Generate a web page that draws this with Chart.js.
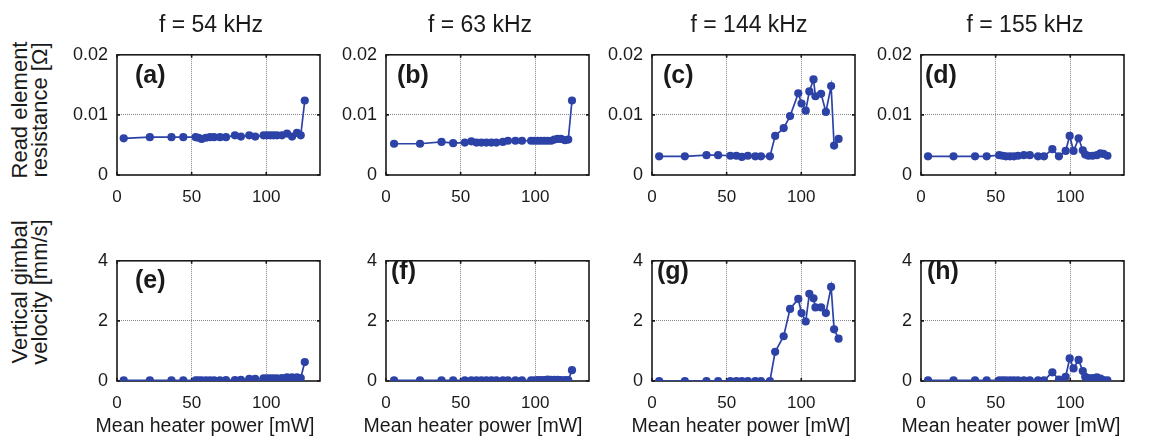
<!DOCTYPE html>
<html><head><meta charset="utf-8">
<script src="https://cdn.jsdelivr.net/npm/chart.js@4.4.1/dist/chart.umd.min.js"></script>
<style>
html,body{margin:0;padding:0;background:#fff;}
body{width:1151px;height:440px;position:relative;overflow:hidden;font-family:'Liberation Sans',Arial,sans-serif;color:#1a1a1a;}
.cv{position:absolute;}
.t{position:absolute;white-space:nowrap;line-height:1;}
.yl{position:absolute;white-space:nowrap;text-align:center;transform:translate(-50%,-50%) rotate(-90deg);}
</style></head><body>
<script>
// ---------- data ----------
const frequencyTitles = ['f = 54 kHz', 'f = 63 kHz', 'f = 144 kHz', 'f = 155 kHz'];
const panelLetters = [['(a)', '(b)', '(c)', '(d)'], ['(e)', '(f)', '(g)', '(h)']];
const xAxisTitle = 'Mean heater power [mW]';
const yAxisTitles = [['Read element', 'resistance [Ω]'], ['Vertical gimbal', 'velocity [mm/s]']];
const xTicks = [0, 50, 100];
const xTickLabels = ['0', '50', '100'];
const resistanceTicks = [0, 0.01, 0.02];
const resistanceTickLabels = ['0', '0.01', '0.02'];
const velocityTicks = [0, 2, 4];
const velocityTickLabels = ['0', '2', '4'];

const power54 = [4.5, 22, 36.5, 44.4, 52.7, 54.5, 56.7, 59.6, 62.3, 65, 69, 73, 79, 83, 88.6, 92.6, 98.2, 100.4, 102.7, 104.9, 107.2, 110.5, 113.9, 117.3, 120.6, 123.1, 125.8];
const resistance54 = [0.0061, 0.0063, 0.0063, 0.0063, 0.0063, 0.0062, 0.006, 0.0062, 0.0063, 0.0063, 0.0063, 0.0063, 0.0066, 0.0064, 0.0066, 0.0064, 0.0066, 0.0066, 0.0066, 0.0066, 0.0066, 0.0066, 0.0069, 0.0064, 0.007, 0.0066, 0.0124];
const velocity54 = [0.02, 0.02, 0.02, 0.02, 0.02, 0.02, 0.02, 0.02, 0.02, 0.02, 0.02, 0.03, 0.03, 0.04, 0.07, 0.07, 0.09, 0.09, 0.09, 0.09, 0.09, 0.1, 0.12, 0.12, 0.12, 0.1, 0.63];

const power63 = [5.4, 22.8, 37.2, 45, 52.8, 57.2, 60.6, 63.9, 67.2, 70.6, 73.9, 78.3, 81.7, 86.7, 91.1, 97.2, 99.4, 101.7, 103.9, 106.1, 108.3, 110.6, 112.8, 115, 117.2, 119.9, 122.1, 124.6];
const resistance63 = [0.0052, 0.0052, 0.0055, 0.0053, 0.0054, 0.0056, 0.0054, 0.0054, 0.0054, 0.0054, 0.0054, 0.0055, 0.0057, 0.0057, 0.0057, 0.0057, 0.0057, 0.0057, 0.0057, 0.0057, 0.0057, 0.0057, 0.0059, 0.006, 0.006, 0.0058, 0.0059, 0.0124];
const velocity63 = [0.02, 0.02, 0.02, 0.02, 0.02, 0.02, 0.02, 0.02, 0.02, 0.02, 0.02, 0.02, 0.02, 0.02, 0.02, 0.02, 0.02, 0.03, 0.03, 0.03, 0.05, 0.04, 0.04, 0.04, 0.03, 0.03, 0.03, 0.36];

const power144 = [4.8, 22, 36.5, 44.3, 52.5, 56.5, 60.2, 64.2, 69.2, 73, 79, 82.5, 88.2, 92.5, 98, 100.2, 103, 105.4, 108.2, 109.5, 113.3, 116.5, 120, 122, 125];
const resistance144 = [0.0031, 0.0031, 0.0033, 0.0033, 0.0032, 0.0032, 0.003, 0.0032, 0.0031, 0.0031, 0.0031, 0.0065, 0.0078, 0.0098, 0.0136, 0.0119, 0.0107, 0.0139, 0.0159, 0.0131, 0.0135, 0.0105, 0.0148, 0.0049, 0.006];
const velocity144 = [0, 0, 0, 0, 0, 0, 0, 0, 0, 0, 0, 0.97, 1.49, 2.4, 2.73, 2.26, 1.98, 2.9, 2.75, 2.45, 2.45, 2.26, 3.13, 1.72, 1.41];

const power155 = [4.7, 21.8, 36.2, 44, 52.4, 54.7, 56.9, 59.6, 62.2, 65, 68.9, 72.9, 78.4, 82.4, 88, 92.4, 96.9, 99.6, 102.2, 105.6, 108.4, 110, 112.2, 115, 117.8, 120.2, 122.2, 124.9];
const resistance155 = [0.0031, 0.0031, 0.0031, 0.0031, 0.0033, 0.0032, 0.0031, 0.0031, 0.0031, 0.0032, 0.0033, 0.0033, 0.0031, 0.0031, 0.0043, 0.0031, 0.004, 0.0065, 0.004, 0.0061, 0.0041, 0.0034, 0.0032, 0.0032, 0.0033, 0.0036, 0.0035, 0.0032];
const velocity155 = [0.02, 0.02, 0.02, 0.02, 0.02, 0.02, 0.02, 0.02, 0.02, 0.02, 0.02, 0.02, 0.02, 0.02, 0.29, 0.05, 0.14, 0.75, 0.42, 0.7, 0.33, 0.14, 0.1, 0.1, 0.12, 0.08, 0.03, 0.02];

// ---------- layout / style ----------
const BLUE = '#2C42A6';
const TEXT = '#1a1a1a';
const FONT = "'Liberation Sans', Arial, sans-serif";
Chart.defaults.font.family = FONT;
Chart.defaults.color = TEXT;

const plotLeft = [117, 386, 652, 921];
const plotTop = [47, 253];
const PW = 203, PH = 128;
const AXW = 52, AXH = 34, PADT = 12, PADR = 12;
const titleCenters = [211, 480, 749, 1025];
const xTitleCenters = [205, 473, 741, 1011];
const letterPos = [[[135, 74], [397, 74], [663, 74], [925, 74]], [[135, 279], [391, 270], [657, 270], [927, 270]]];

function addText(txt, x, y, size, bold, anchor) {
  const d = document.createElement('div');
  d.className = 't';
  d.textContent = txt;
  d.style.fontSize = size + 'px';
  if (bold) d.style.fontWeight = 'bold';
  d.style.top = (y - 0.49 * size) + 'px';
  if (anchor === 'center') { d.style.left = x + 'px'; d.style.transform = 'translateX(-50%)'; }
  else d.style.left = x + 'px';
  document.body.appendChild(d);
}

const framePlugin = {
  id: 'frame',
  beforeDatasetsDraw(chart) {
    const {ctx, chartArea: a, scales} = chart;
    ctx.save();
    ctx.strokeStyle = '#1a1a1a';
    ctx.lineWidth = 1.6;
    ctx.strokeRect(a.left, a.top, a.right - a.left, a.bottom - a.top);
    ctx.beginPath();
    const tl = 3;
    scales.x.ticks.forEach(t => {
      const px = scales.x.getPixelForValue(t.value);
      ctx.moveTo(px, a.bottom); ctx.lineTo(px, a.bottom - tl);
      ctx.moveTo(px, a.top); ctx.lineTo(px, a.top + tl);
    });
    scales.y.ticks.forEach(t => {
      const py = scales.y.getPixelForValue(t.value);
      ctx.moveTo(a.left, py); ctx.lineTo(a.left + tl, py);
      ctx.moveTo(a.right, py); ctx.lineTo(a.right - tl, py);
    });
    ctx.stroke();
    ctx.restore();
  }
};

function makeChart(col, row, xs, ys, yTicks, yLabels) {
  const W = AXW + PW + PADR, H = PADT + PH + AXH;
  const wrap = document.createElement('div');
  wrap.className = 'cv';
  wrap.style.left = (plotLeft[col] - AXW) + 'px';
  wrap.style.top = (plotTop[row] - PADT) + 'px';
  wrap.style.width = W + 'px';
  wrap.style.height = H + 'px';
  const cv = document.createElement('canvas');
  cv.width = W; cv.height = H;
  cv.style.width = W + 'px'; cv.style.height = H + 'px';
  wrap.appendChild(cv);
  document.body.appendChild(wrap);
  const yMin = yTicks[0], yMax = yTicks[yTicks.length - 1];
  const interiorX = v => v > 0 && v < 136;
  const interiorY = v => v > yMin && v < yMax;
  new Chart(cv, {
    type: 'scatter',
    data: {
      datasets: [{
        data: xs.map((x, i) => ({x: x, y: ys[i]})),
        showLine: true,
        borderColor: BLUE,
        backgroundColor: BLUE,
        borderWidth: 1.7,
        pointRadius: 4.1,
        pointBorderWidth: 0,
        pointBackgroundColor: BLUE,
        tension: 0
      }]
    },
    options: {
      responsive: false,
      animation: false,
      layout: {padding: {top: PADT, right: PADR, left: 0, bottom: 0}},
      plugins: {legend: {display: false}, tooltip: {enabled: false}},
      scales: {
        x: {
          type: 'linear', min: 0, max: 136,
          afterBuildTicks: s => { s.ticks = xTicks.map(v => ({value: v})); },
          afterFit: s => { s.height = AXH; },
          ticks: {padding: 12, font: {size: 17}, color: TEXT, maxRotation: 0, autoSkip: false,
                  callback: (v, i) => xTickLabels[i]},
          grid: {drawTicks: false, lineWidth: 1,
                 color: c => (c.tick && interiorX(c.tick.value)) ? '#858585' : 'rgba(0,0,0,0)'},
          border: {display: false, dash: [1, 1]}
        },
        y: {
          type: 'linear', min: yMin, max: yMax,
          afterBuildTicks: s => { s.ticks = yTicks.map(v => ({value: v})); },
          afterFit: s => { s.width = AXW; },
          ticks: {padding: 9, font: {size: 18}, color: TEXT, autoSkip: false,
                  callback: (v, i) => yLabels[i]},
          grid: {drawTicks: false, lineWidth: 1,
                 color: c => (c.tick && interiorY(c.tick.value)) ? '#858585' : 'rgba(0,0,0,0)'},
          border: {display: false, dash: [1, 1]}
        }
      }
    },
    plugins: [framePlugin]
  });
}

const powers = [power54, power63, power144, power155];
const resistances = [resistance54, resistance63, resistance144, resistance155];
const velocities = [velocity54, velocity63, velocity144, velocity155];

for (let c = 0; c < 4; c++) {
  makeChart(c, 0, powers[c], resistances[c], resistanceTicks, resistanceTickLabels);
  makeChart(c, 1, powers[c], velocities[c], velocityTicks, velocityTickLabels);
  addText(frequencyTitles[c], titleCenters[c], 24, 23, false, 'center');
  addText(xAxisTitle, xTitleCenters[c], 426, 19.5, false, 'center');
  for (let r = 0; r < 2; r++) {
    const p = letterPos[r][c];
    addText(panelLetters[r][c], p[0], p[1], 25, true, 'left');
  }
}

const yCenters = [110, 292];
for (let r = 0; r < 2; r++) {
  const d = document.createElement('div');
  d.className = 'yl';
  d.style.left = '30px';
  d.style.top = yCenters[r] + 'px';
  d.style.fontSize = '22px';
  d.style.lineHeight = '20px';
  yAxisTitles[r].forEach(line => {
    const s = document.createElement('div');
    s.textContent = line;
    d.appendChild(s);
  });
  document.body.appendChild(d);
}
</script>
</body></html>
